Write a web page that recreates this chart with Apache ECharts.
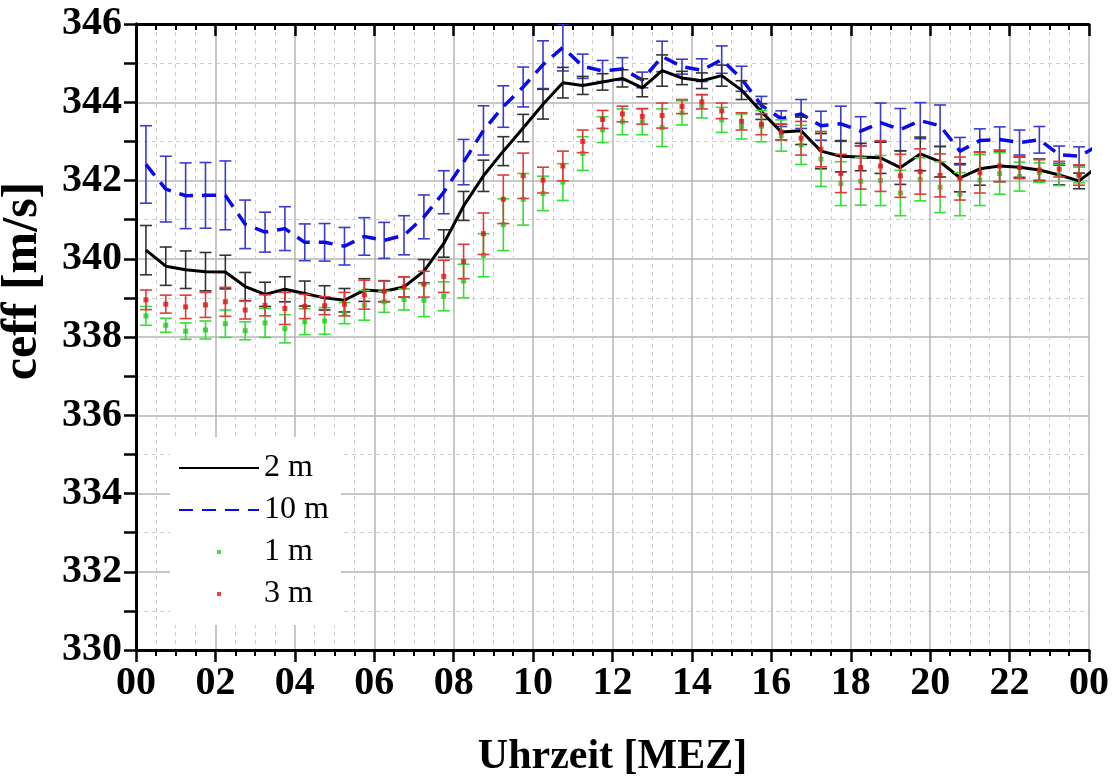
<!DOCTYPE html>
<html>
<head>
<meta charset="utf-8">
<script src="https://cdn.jsdelivr.net/npm/echarts@6/dist/echarts.min.js"></script>
<style>
html,body{margin:0;padding:0;background:#fff;}
#chart{width:1113px;height:776px;}
</style>
</head>
<body>
<div id="chart"></div>
<script>
// time of day (hours), half-hour means centred at :15 / :45
const hours = [0.25,0.75,1.25,1.75,2.25,2.75,3.25,3.75,4.25,4.75,5.25,5.75,6.25,6.75,7.25,7.75,
  8.25,8.75,9.25,9.75,10.25,10.75,11.25,11.75,12.25,12.75,13.25,13.75,14.25,14.75,15.25,15.75,
  16.25,16.75,17.25,17.75,18.25,18.75,19.25,19.75,20.25,20.75,21.25,21.75,22.25,22.75,23.25,23.75,24.25];

// 2 m (black line)
const c2m = [340.22,339.81,339.72,339.67,339.66,339.29,339.09,339.22,339.11,339.00,338.94,339.20,339.17,339.28,339.68,340.39,
  341.35,342.12,342.75,343.34,343.95,344.50,344.43,344.52,344.61,344.37,344.81,344.62,344.55,344.68,344.31,343.76,
  343.24,343.27,342.75,342.62,342.60,342.58,342.33,342.68,342.48,342.07,342.30,342.37,342.34,342.27,342.14,341.99,342.37];
const e2m = [0.63,0.49,0.48,0.49,0.43,0.36,0.31,0.32,0.32,0.31,0.30,0.29,0.27,0.26,0.30,0.35,
  0.37,0.40,0.37,0.35,0.38,0.39,0.23,0.21,0.22,0.23,0.40,0.17,0.20,0.27,0.24,0.20,
  0.20,0.35,0.45,0.40,0.35,0.40,0.43,0.43,0.39,0.36,0.42,0.40,0.26,0.28,0.25,0.20];

// 10 m (blue dashed line)
const c10m = [342.41,341.78,341.61,341.62,341.62,340.88,340.68,340.77,340.42,340.42,340.32,340.57,340.47,340.60,341.07,341.70,
  342.47,343.28,343.89,344.39,344.96,345.40,344.92,344.80,344.85,344.57,345.17,344.91,344.82,345.09,344.60,343.92,
  343.58,343.70,343.40,343.45,343.26,343.48,343.30,343.53,343.40,342.75,343.02,343.05,342.97,343.04,342.66,342.62,342.90];
const e10m = [0.99,0.84,0.84,0.84,0.88,0.62,0.51,0.56,0.47,0.48,0.48,0.48,0.46,0.50,0.56,0.55,
  0.58,0.63,0.53,0.51,0.61,0.60,0.31,0.27,0.29,0.20,0.39,0.19,0.29,0.35,0.32,0.23,
  0.20,0.37,0.37,0.45,0.37,0.50,0.54,0.46,0.53,0.35,0.30,0.32,0.32,0.34,0.22,0.24];

// 1 m (green dots)
const c1m = [338.54,338.30,338.15,338.18,338.34,338.16,338.36,338.21,338.39,338.41,338.61,338.81,338.90,338.96,338.94,339.04,
  339.43,340.09,340.87,341.52,341.67,341.96,342.69,343.30,343.50,343.50,343.35,343.73,343.90,343.55,343.38,343.39,
  343.15,342.91,342.55,341.92,341.98,342.00,341.68,342.03,341.83,341.65,342.01,342.18,342.10,342.20,342.14,342.14];
const e1m = [0.24,0.18,0.21,0.23,0.35,0.23,0.37,0.36,0.33,0.34,0.27,0.38,0.27,0.27,0.42,0.37,
  0.43,0.55,0.66,0.66,0.44,0.47,0.43,0.33,0.33,0.33,0.48,0.31,0.30,0.32,0.32,0.40,
  0.40,0.50,0.70,0.56,0.61,0.64,0.58,0.55,0.65,0.55,0.65,0.53,0.37,0.25,0.27,0.20];

// 3 m (red dots)
const c3m = [338.95,338.84,338.77,338.82,338.90,338.69,338.81,338.73,338.78,338.80,338.84,339.08,339.17,339.28,339.35,339.55,
  339.93,340.64,341.52,342.12,342.01,342.37,343.00,343.56,343.70,343.64,343.66,343.89,344.01,343.78,343.51,343.44,
  343.24,343.08,342.80,342.18,342.33,342.37,342.12,342.23,342.13,342.05,342.20,342.37,342.33,342.27,342.29,342.14];
const e3m = [0.25,0.23,0.30,0.32,0.37,0.23,0.27,0.41,0.31,0.23,0.30,0.37,0.26,0.26,0.33,0.41,
  0.44,0.53,0.62,0.58,0.33,0.38,0.29,0.23,0.20,0.20,0.32,0.18,0.18,0.20,0.22,0.27,
  0.20,0.43,0.45,0.49,0.55,0.65,0.55,0.58,0.55,0.55,0.52,0.40,0.28,0.26,0.20,0.26];

const xTicks = ['00','02','04','06','08','10','12','14','16','18','20','22','00'];
const seriesNames = ['2 m','10 m','1 m','3 m'];

const pairs = (ys) => ys.map((v,i)=>[hours[i], v]);
const errs = (ys, es) => es.map((e,i)=>[hours[i], ys[i]-e, ys[i]+e]);

function errRender(color, cap, lw){
  return function(params, api){
    const x = api.value(0);
    const lo = api.coord([x, api.value(1)]);
    const hi = api.coord([x, api.value(2)]);
    const st = {stroke: color, lineWidth: lw};
    return {type:'group', children:[
      {type:'line', shape:{x1:lo[0], y1:lo[1], x2:hi[0], y2:hi[1]}, style:st},
      {type:'line', shape:{x1:lo[0]-cap, y1:lo[1], x2:lo[0]+cap, y2:lo[1]}, style:st},
      {type:'line', shape:{x1:hi[0]-cap, y1:hi[1], x2:hi[0]+cap, y2:hi[1]}, style:st}
    ]};
  };
}

const FONT = 'Liberation Serif';
const chart = echarts.init(document.getElementById('chart'));
const dotIcon = 'path://M0,0 M80,14 M38,5 L42,5 L42,9 L38,9 Z';
const noSym = {color:'rgba(0,0,0,0)', borderColor:'rgba(0,0,0,0)', borderWidth:0};

chart.setOption({
  animation: false,
  backgroundColor: '#fff',
  grid: {left:136, right:24, top:24, bottom:126, containLabel:false, outerBoundsMode:'none'},
  legend: {
    orient:'vertical', left:170, top:437,
    backgroundColor:'#fff',
    padding:[15, 12, 15, 8],
    itemWidth:80, itemHeight:14, itemGap:10,
    textStyle:{fontFamily:FONT, fontSize:32, color:'#000'},
    data:[
      {name:'2 m', itemStyle: noSym},
      {name:'10 m', itemStyle: noSym},
      {name:'1 m', icon: dotIcon},
      {name:'3 m', icon: dotIcon}
    ]
  },
  xAxis: [{
    type:'value', min:0, max:24, interval:2, position:'bottom',
    axisLine:{lineStyle:{color:'#000', width:3}},
    axisTick:{show:true, inside:false, length:12, lineStyle:{color:'#000', width:2.5}},
    minorTick:{show:true, splitNumber:4, length:6, lineStyle:{color:'#000', width:2}},
    splitLine:{show:true, lineStyle:{color:'#b4b4b4', width:1.5}},
    minorSplitLine:{show:true, lineStyle:{color:'#cfcfcf', width:1, type:[4,4]}},
    axisLabel:{fontFamily:FONT, fontWeight:'bold', fontSize:40, color:'#000', margin:14,
      formatter:(v)=> xTicks[Math.round(v/2)]},
    name:'Uhrzeit [MEZ]', nameLocation:'middle', nameGap:86,
    nameTextStyle:{fontFamily:FONT, fontWeight:'bold', fontSize:42, color:'#000'}
  },{
    type:'value', min:0, max:24, interval:2, position:'top',
    axisLine:{lineStyle:{color:'#000', width:3}},
    axisTick:{show:true, inside:true, length:12, lineStyle:{color:'#000', width:2.5}},
    minorTick:{show:true, splitNumber:4, length:6, lineStyle:{color:'#000', width:2}},
    splitLine:{show:false}, axisLabel:{show:false}
  }],
  yAxis: [{
    type:'value', min:330, max:346, interval:2, position:'left',
    axisLine:{show:true, lineStyle:{color:'#000', width:3}},
    axisTick:{show:true, inside:false, length:12, lineStyle:{color:'#000', width:2.5}},
    minorTick:{show:true, splitNumber:2, length:12, lineStyle:{color:'#000', width:2.5}},
    splitLine:{show:true, lineStyle:{color:'#b4b4b4', width:1.5}},
    minorSplitLine:{show:true, lineStyle:{color:'#cfcfcf', width:1, type:[4,4]}},
    axisLabel:{fontFamily:FONT, fontWeight:'bold', fontSize:40, color:'#000', margin:14},
    name:'ceff [m/s]', nameLocation:'middle', nameGap:88,
    nameTextStyle:{fontFamily:FONT, fontWeight:'bold', fontSize:50, color:'#000', padding:[0,0,0,112]}
  },{
    type:'value', min:330, max:346, interval:2, position:'right',
    axisLine:{show:true, lineStyle:{color:'#000', width:3}},
    axisTick:{show:false}, axisLabel:{show:false}, splitLine:{show:false}
  }],
  series: [
    {name:'err10', type:'custom', clip:true, renderItem: errRender('#3b3bd0', 6, 1.6), data: errs(c10m, e10m), z:2},
    {name:'10 m', type:'line', data: pairs(c10m), showSymbol:false, symbol:'none', clip:true,
      lineStyle:{color:'#0a0ae6', width:3.5, type:[14,9]}, itemStyle:{color:'#0a0ae6'}, z:3},
    {name:'err2', type:'custom', clip:true, renderItem: errRender('#333333', 6, 1.6), data: errs(c2m, e2m), z:4},
    {name:'2 m', type:'line', data: pairs(c2m), showSymbol:false, symbol:'none', clip:true,
      lineStyle:{color:'#000', width:3}, itemStyle:{color:'#000'}, z:5},
    {name:'err1', type:'custom', clip:true, renderItem: errRender('#33e033', 6, 1.6), data: errs(c1m, e1m), z:6},
    {name:'1 m', type:'scatter', data: pairs(c1m), symbol:'rect', symbolSize:5,
      itemStyle:{color:'#22cc22'}, z:7},
    {name:'err3', type:'custom', clip:true, renderItem: errRender('#e03a3a', 6, 1.6), data: errs(c3m, e3m), z:8},
    {name:'3 m', type:'scatter', data: pairs(c3m), symbol:'rect', symbolSize:5,
      itemStyle:{color:'#d81818'}, z:9}
  ]
});
</script>
</body>
</html>
